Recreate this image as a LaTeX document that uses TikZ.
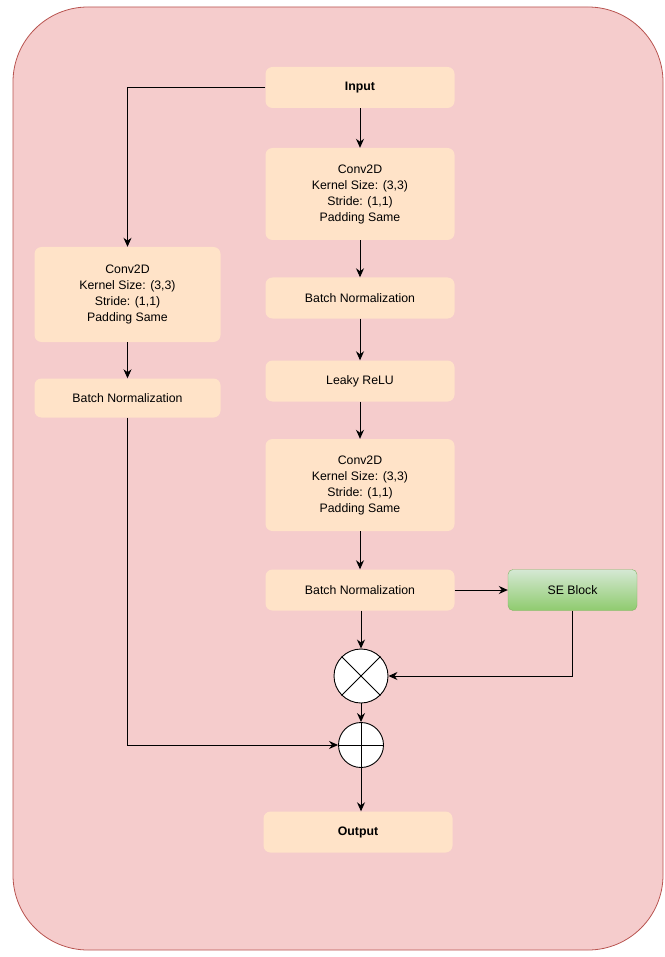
\documentclass[tikz,border=0pt]{standalone}
\usepackage{fontspec}
\setmainfont{Liberation Sans}
\usetikzlibrary{arrows.meta,shadings}
\definecolor{outerfill}{HTML}{F5CCCC}
\definecolor{outerdraw}{HTML}{B85450}
\definecolor{boxfill}{HTML}{FFE3C8}
\definecolor{segtop}{HTML}{D5E8D4}
\definecolor{segbot}{HTML}{8FCB6E}
\definecolor{sedraw}{HTML}{82B366}
\begin{document}
\begin{tikzpicture}[x=1pt,y=-1pt,
  box/.style={fill=boxfill,rounded corners=7pt,minimum width=189pt,minimum height=41pt,align=center,font=\fontsize{12.3}{16}\selectfont,inner sep=0pt},
  tallbox/.style={box,minimum height=92pt},
  sebox/.style={draw=sedraw,top color=segtop,bottom color=segbot,rounded corners=5pt,minimum width=129pt,minimum height=41pt,font=\fontsize{12.3}{16}\selectfont,inner sep=0pt},
  op/.style={circle,draw=black,fill=white,line width=0.9pt,inner sep=0pt},
  conn/.style={draw=black,line width=0.9pt,-{Stealth[length=9pt,width=8pt]}}]
\useasboundingbox (0,0) rectangle (664,957);
\fill[outerfill] (13,7) [rounded corners=75pt] rectangle (663,950);
\draw[outerdraw,line width=0.8pt,rounded corners=75pt] (13,7) rectangle (663,950);

\node[box,font=\bfseries\fontsize{12.3}{16}\selectfont] (in) at (360,87.5) {Input};
\node[tallbox] (c1) at (360,194) {Conv2D\\Kernel Size: (3,3)\\Stride: (1,1)\\Padding Same};
\node[box] (b1) at (360,298) {Batch Normalization};
\node[box] (lr) at (360,381) {Leaky ReLU};
\node[tallbox] (c2) at (360,485) {Conv2D\\Kernel Size: (3,3)\\Stride: (1,1)\\Padding Same};
\node[box] (b2) at (360,590) {Batch Normalization};
\node[sebox] (se) at (572.5,590) {SE Block};
\node[op,minimum size=54pt] (mul) at (361,676) {};
\draw[line width=0.9pt] (mul.north west) -- (mul.south east) (mul.north east) -- (mul.south west);
\node[op,minimum size=45pt] (add) at (361,745) {};
\draw[line width=0.9pt] (add.north) -- (add.south) (add.west) -- (add.east);
\node[box,font=\bfseries\fontsize{12.3}{16}\selectfont] (out) at (358,832) {Output};

\node[tallbox,minimum width=186pt,minimum height=95pt] (lc) at (127.5,294.5) {Conv2D\\Kernel Size: (3,3)\\Stride: (1,1)\\Padding Same};
\node[box,minimum width=186pt,minimum height=39pt] (lb) at (127.5,398) {Batch Normalization};

\draw[conn] (in.south) -- (c1.north);
\draw[conn] (c1.south) -- (b1.north);
\draw[conn] (b1.south) -- (lr.north);
\draw[conn] (lr.south) -- (c2.north);
\draw[conn] (c2.south) -- (b2.north);
\draw[conn] (b2.east) -- (se.west);
\draw[conn] (b2.south -| mul.north) -- (mul.north);
\draw[conn] (se.south) |- (mul.east);
\draw[conn] (mul.south) -- (add.north);
\draw[conn] (add.south) -- (add.south |- out.north);
\draw[conn] (in.west) -| (lc.north);
\draw[conn] (lc.south) -- (lb.north);
\draw[conn] (lb.south) |- (add.west);
\end{tikzpicture}
\end{document}
